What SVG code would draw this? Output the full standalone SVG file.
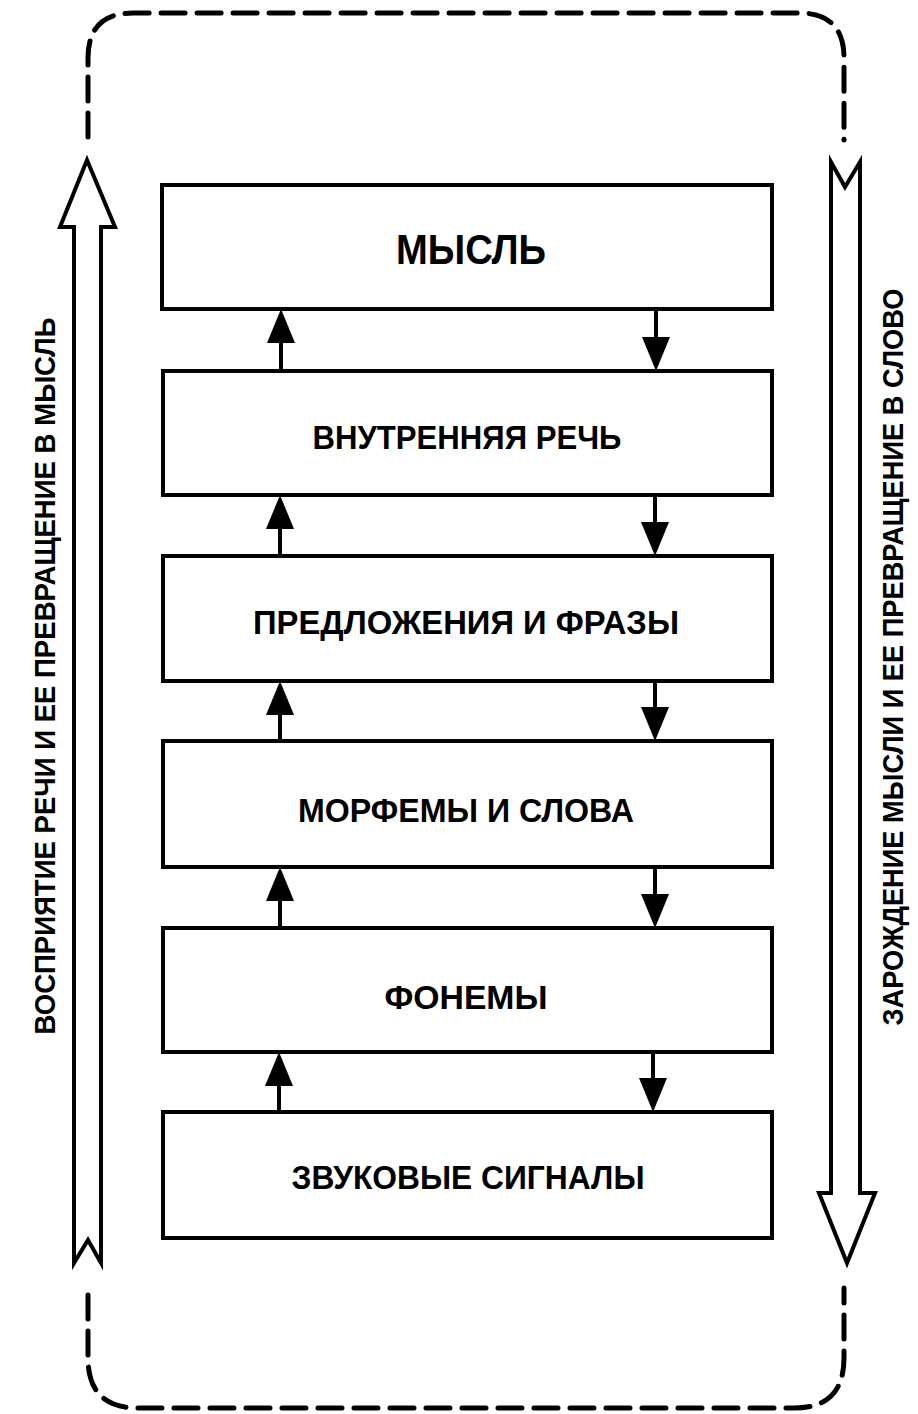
<svg xmlns="http://www.w3.org/2000/svg" width="918" height="1414" viewBox="0 0 918 1414">
<style>
.box{fill:#fff;stroke:#000;stroke-width:4}
.lbl{font-family:"Liberation Sans",Arial,sans-serif;font-weight:bold;font-size:33px;text-anchor:middle;fill:#000}
.side{font-family:"Liberation Sans",Arial,sans-serif;font-weight:bold;font-size:29px;text-anchor:middle;fill:#000}
.dash{fill:none;stroke:#000;stroke-width:5;stroke-dasharray:24 12;stroke-linecap:round}
.big{fill:#fff;stroke:#000;stroke-width:4;stroke-linejoin:miter}
.stem{stroke:#000;stroke-width:4}
.head{fill:#000}
</style>
<rect width="918" height="1414" fill="#fff"/>
<g id="frame">
<path class="dash" d="M88,137 V58 Q88,13 133,13 H799 Q844,13 844,58 V140"/>
<path class="dash" d="M88,1295 V1358 Q88,1408 138,1408 H794 Q844,1408 844,1358 V1288"/>
</g>
<g id="arrow-left">
<polygon class="big" points="87,160 115,227 101,227 101,1263 88,1240 74,1263 74,227 60,227"/>
<text class="side" transform="translate(44,676) rotate(-90)" y="11" textLength="717" lengthAdjust="spacingAndGlyphs">ВОСПРИЯТИЕ РЕЧИ И ЕЕ ПРЕВРАЩЕНИЕ В МЫСЛЬ</text>
</g>
<g id="arrow-right">
<polygon class="big" points="831,162 845,187 860,162 860,1193 875,1193 847,1263 819,1193 831,1193"/>
<text class="side" transform="translate(892,657) rotate(-90)" y="11" textLength="737" lengthAdjust="spacingAndGlyphs">ЗАРОЖДЕНИЕ МЫСЛИ И ЕЕ ПРЕВРАЩЕНИЕ В СЛОВО</text>
</g>
<g id="n1"><rect class="box" x="162" y="185" width="610" height="124"/><text class="lbl" x="471" y="264" style="font-size:43px" textLength="150" lengthAdjust="spacingAndGlyphs">МЫСЛЬ</text></g>
<g id="n2"><rect class="box" x="163" y="371" width="609" height="124"/><text class="lbl" x="467" y="449" textLength="309" lengthAdjust="spacingAndGlyphs">ВНУТРЕННЯЯ РЕЧЬ</text></g>
<g id="n3"><rect class="box" x="163" y="556" width="609" height="125"/><text class="lbl" x="466" y="634" textLength="426" lengthAdjust="spacingAndGlyphs">ПРЕДЛОЖЕНИЯ И ФРАЗЫ</text></g>
<g id="n4"><rect class="box" x="163" y="741" width="609" height="126"/><text class="lbl" x="466" y="822" textLength="336" lengthAdjust="spacingAndGlyphs">МОРФЕМЫ И СЛОВА</text></g>
<g id="n5"><rect class="box" x="163" y="928" width="609" height="124"/><text class="lbl" x="466" y="1009" textLength="163" lengthAdjust="spacingAndGlyphs">ФОНЕМЫ</text></g>
<g id="n6"><rect class="box" x="163" y="1112" width="609" height="126"/><text class="lbl" x="468" y="1189" textLength="353" lengthAdjust="spacingAndGlyphs">ЗВУКОВЫЕ СИГНАЛЫ</text></g>
<g id="connectors">
<line class="stem" x1="281" y1="371" x2="281" y2="335"/><polygon class="head" points="281,309 295,343 267,343"/>
<line class="stem" x1="656" y1="309" x2="656" y2="345"/><polygon class="head" points="656,371 670,337 642,337"/>
<line class="stem" x1="280" y1="556" x2="280" y2="520"/><polygon class="head" points="280,495 294,529 266,529"/>
<line class="stem" x1="655" y1="495" x2="655" y2="531"/><polygon class="head" points="655,556 669,522 641,522"/>
<line class="stem" x1="280" y1="741" x2="280" y2="706"/><polygon class="head" points="280,681 294,715 266,715"/>
<line class="stem" x1="655" y1="681" x2="655" y2="716"/><polygon class="head" points="655,741 669,707 641,707"/>
<line class="stem" x1="280" y1="928" x2="280" y2="892"/><polygon class="head" points="280,867 294,901 266,901"/>
<line class="stem" x1="655" y1="867" x2="655" y2="903"/><polygon class="head" points="655,928 669,894 641,894"/>
<line class="stem" x1="279" y1="1112" x2="279" y2="1077"/><polygon class="head" points="279,1052 293,1086 265,1086"/>
<line class="stem" x1="653" y1="1052" x2="653" y2="1087"/><polygon class="head" points="653,1112 667,1078 639,1078"/>
</g>
</svg>
